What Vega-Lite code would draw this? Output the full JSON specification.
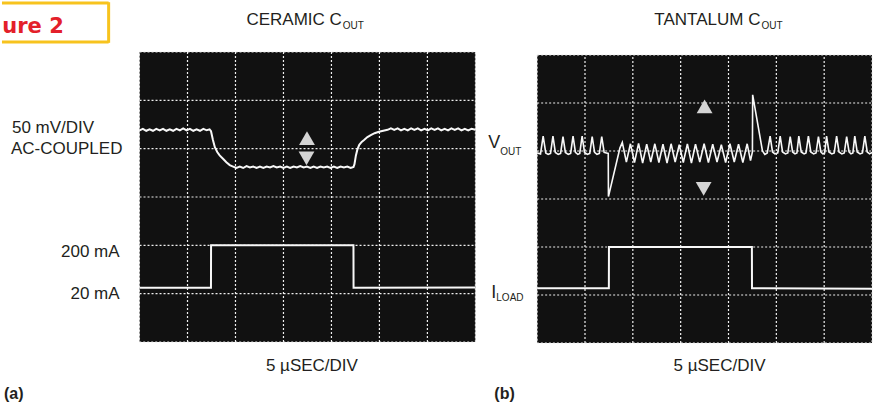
{
  "$schema": "https://vega.github.io/schema/vega-lite/v6.json",
  "width": 876,
  "height": 405,
  "autosize": {"type": "fit", "contains": "padding"},
  "padding": 0,
  "background": "white",
  "config": {"view": {"stroke": null}, "text": {"font": "Liberation Sans", "color": "#231f20"}},
  "datasets": {
    "frame": [{"x0": 0, "x1": 7, "y0": 0, "y1": 6}],
    "vgrid": [{"g": 1}, {"g": 2}, {"g": 3}, {"g": 4}, {"g": 5}, {"g": 6}],
    "hgrid": [{"g": 1}, {"g": 2}, {"g": 3}, {"g": 4}, {"g": 5}],
    "voutA": [
      {"t": 0.00, "v": 4.38}, {"t": 0.07, "v": 4.41}, {"t": 0.14, "v": 4.37}, {"t": 0.21, "v": 4.40}, {"t": 0.28, "v": 4.37},
      {"t": 0.35, "v": 4.41}, {"t": 0.42, "v": 4.38}, {"t": 0.49, "v": 4.41}, {"t": 0.56, "v": 4.37}, {"t": 0.63, "v": 4.40},
      {"t": 0.70, "v": 4.37}, {"t": 0.77, "v": 4.41}, {"t": 0.84, "v": 4.38}, {"t": 0.91, "v": 4.42}, {"t": 0.98, "v": 4.38},
      {"t": 1.05, "v": 4.41}, {"t": 1.12, "v": 4.37}, {"t": 1.19, "v": 4.40}, {"t": 1.26, "v": 4.37}, {"t": 1.33, "v": 4.41},
      {"t": 1.40, "v": 4.38}, {"t": 1.46, "v": 4.40},
      {"t": 1.49, "v": 4.36}, {"t": 1.53, "v": 4.18}, {"t": 1.57, "v": 4.03}, {"t": 1.62, "v": 3.93}, {"t": 1.67, "v": 3.86},
      {"t": 1.74, "v": 3.79}, {"t": 1.81, "v": 3.72}, {"t": 1.88, "v": 3.66},
      {"t": 1.95, "v": 3.63}, {"t": 2.02, "v": 3.60}, {"t": 2.09, "v": 3.63}, {"t": 2.16, "v": 3.60}, {"t": 2.23, "v": 3.64},
      {"t": 2.30, "v": 3.61}, {"t": 2.37, "v": 3.63}, {"t": 2.44, "v": 3.60}, {"t": 2.51, "v": 3.63}, {"t": 2.58, "v": 3.60},
      {"t": 2.65, "v": 3.63}, {"t": 2.72, "v": 3.61}, {"t": 2.79, "v": 3.64}, {"t": 2.86, "v": 3.61}, {"t": 2.93, "v": 3.63},
      {"t": 3.00, "v": 3.60}, {"t": 3.07, "v": 3.63}, {"t": 3.14, "v": 3.60}, {"t": 3.21, "v": 3.63}, {"t": 3.28, "v": 3.61},
      {"t": 3.35, "v": 3.64}, {"t": 3.42, "v": 3.61}, {"t": 3.49, "v": 3.63}, {"t": 3.56, "v": 3.60}, {"t": 3.63, "v": 3.63},
      {"t": 3.70, "v": 3.60}, {"t": 3.77, "v": 3.63}, {"t": 3.84, "v": 3.61}, {"t": 3.91, "v": 3.63}, {"t": 3.98, "v": 3.60},
      {"t": 4.05, "v": 3.63}, {"t": 4.12, "v": 3.60}, {"t": 4.19, "v": 3.63}, {"t": 4.26, "v": 3.61}, {"t": 4.33, "v": 3.63},
      {"t": 4.40, "v": 3.60}, {"t": 4.46, "v": 3.62},
      {"t": 4.48, "v": 3.68}, {"t": 4.51, "v": 3.86}, {"t": 4.54, "v": 3.98}, {"t": 4.58, "v": 4.08}, {"t": 4.63, "v": 4.14},
      {"t": 4.68, "v": 4.18}, {"t": 4.75, "v": 4.24}, {"t": 4.82, "v": 4.28}, {"t": 4.90, "v": 4.32}, {"t": 4.99, "v": 4.35},
      {"t": 5.08, "v": 4.37}, {"t": 5.17, "v": 4.39},
      {"t": 5.24, "v": 4.42}, {"t": 5.31, "v": 4.39}, {"t": 5.38, "v": 4.42}, {"t": 5.45, "v": 4.38}, {"t": 5.52, "v": 4.41},
      {"t": 5.59, "v": 4.38}, {"t": 5.66, "v": 4.42}, {"t": 5.73, "v": 4.39}, {"t": 5.80, "v": 4.42}, {"t": 5.87, "v": 4.38},
      {"t": 5.94, "v": 4.41}, {"t": 6.01, "v": 4.38}, {"t": 6.08, "v": 4.42}, {"t": 6.15, "v": 4.39}, {"t": 6.22, "v": 4.42},
      {"t": 6.29, "v": 4.38}, {"t": 6.36, "v": 4.41}, {"t": 6.43, "v": 4.38}, {"t": 6.50, "v": 4.42}, {"t": 6.57, "v": 4.39},
      {"t": 6.64, "v": 4.42}, {"t": 6.71, "v": 4.38}, {"t": 6.78, "v": 4.41}, {"t": 6.85, "v": 4.38}, {"t": 6.92, "v": 4.41},
      {"t": 7.00, "v": 4.39}
    ],
    "iloadA": [
      {"t": 0, "v": 1.12}, {"t": 1.489, "v": 1.12}, {"t": 1.491, "v": 2.0}, {"t": 4.459, "v": 2.0}, {"t": 4.461, "v": 1.12}, {"t": 7, "v": 1.13}
    ],
    "markA": [{"t": 3.49, "v": 4.22, "dir": "up"}, {"t": 3.48, "v": 3.80, "dir": "down"}],
    "voutB": [
      {"t": 0.00, "v": 3.96}, {"t": 0.07, "v": 3.94}, {"t": 0.125, "v": 4.31}, {"t": 0.18, "v": 3.96}, {"t": 0.23, "v": 3.93},
      {"t": 0.28, "v": 3.95}, {"t": 0.33, "v": 4.31}, {"t": 0.38, "v": 3.97}, {"t": 0.44, "v": 3.93}, {"t": 0.49, "v": 3.95},
      {"t": 0.54, "v": 4.30}, {"t": 0.59, "v": 3.97}, {"t": 0.65, "v": 3.93}, {"t": 0.70, "v": 3.95}, {"t": 0.75, "v": 4.31},
      {"t": 0.80, "v": 3.97}, {"t": 0.85, "v": 3.93}, {"t": 0.89, "v": 3.95}, {"t": 0.94, "v": 4.31}, {"t": 0.99, "v": 3.97},
      {"t": 1.05, "v": 3.93}, {"t": 1.10, "v": 3.95}, {"t": 1.15, "v": 4.30}, {"t": 1.20, "v": 3.97}, {"t": 1.25, "v": 3.93},
      {"t": 1.30, "v": 3.95}, {"t": 1.35, "v": 4.30}, {"t": 1.40, "v": 3.97}, {"t": 1.486, "v": 3.95},
      {"t": 1.49, "v": 3.05}, {"t": 1.73, "v": 4.06},
      {"t": 1.78, "v": 4.18}, {"t": 1.865, "v": 3.77}, {"t": 1.95, "v": 4.15}, {"t": 2.035, "v": 3.76}, {"t": 2.12, "v": 4.16},
      {"t": 2.205, "v": 3.75}, {"t": 2.29, "v": 4.14}, {"t": 2.375, "v": 3.77}, {"t": 2.46, "v": 4.15}, {"t": 2.545, "v": 3.76},
      {"t": 2.63, "v": 4.14}, {"t": 2.715, "v": 3.75}, {"t": 2.80, "v": 4.15}, {"t": 2.885, "v": 3.77}, {"t": 2.97, "v": 4.13},
      {"t": 3.055, "v": 3.76}, {"t": 3.14, "v": 4.15}, {"t": 3.225, "v": 3.75}, {"t": 3.31, "v": 4.14}, {"t": 3.40, "v": 3.77},
      {"t": 3.49, "v": 4.15}, {"t": 3.58, "v": 3.76}, {"t": 3.67, "v": 4.14}, {"t": 3.76, "v": 3.77}, {"t": 3.85, "v": 4.13},
      {"t": 3.94, "v": 3.76}, {"t": 4.03, "v": 4.15}, {"t": 4.12, "v": 3.77}, {"t": 4.21, "v": 4.14}, {"t": 4.30, "v": 3.76},
      {"t": 4.39, "v": 4.15}, {"t": 4.46, "v": 3.80}, {"t": 4.50, "v": 3.98},
      {"t": 4.505, "v": 5.17}, {"t": 4.71, "v": 4.00}, {"t": 4.76, "v": 3.93}, {"t": 4.81, "v": 3.96},
      {"t": 4.87, "v": 4.31}, {"t": 4.92, "v": 3.98}, {"t": 4.97, "v": 3.94}, {"t": 5.03, "v": 3.96}, {"t": 5.08, "v": 4.31},
      {"t": 5.13, "v": 3.98}, {"t": 5.19, "v": 3.94}, {"t": 5.24, "v": 3.96}, {"t": 5.29, "v": 4.30}, {"t": 5.34, "v": 3.98},
      {"t": 5.39, "v": 3.94}, {"t": 5.43, "v": 3.96}, {"t": 5.47, "v": 4.31}, {"t": 5.52, "v": 3.98}, {"t": 5.58, "v": 3.94},
      {"t": 5.62, "v": 3.96}, {"t": 5.67, "v": 4.31}, {"t": 5.72, "v": 3.98}, {"t": 5.78, "v": 3.94}, {"t": 5.83, "v": 3.96},
      {"t": 5.88, "v": 4.30}, {"t": 5.93, "v": 3.98}, {"t": 5.97, "v": 3.94}, {"t": 6.01, "v": 3.96}, {"t": 6.05, "v": 4.31},
      {"t": 6.10, "v": 3.98}, {"t": 6.16, "v": 3.94}, {"t": 6.21, "v": 3.96}, {"t": 6.26, "v": 4.31}, {"t": 6.31, "v": 3.98},
      {"t": 6.37, "v": 3.94}, {"t": 6.42, "v": 3.96}, {"t": 6.47, "v": 4.30}, {"t": 6.52, "v": 3.98}, {"t": 6.56, "v": 3.94},
      {"t": 6.60, "v": 3.96}, {"t": 6.64, "v": 4.31}, {"t": 6.69, "v": 3.98}, {"t": 6.75, "v": 3.94}, {"t": 6.80, "v": 3.96},
      {"t": 6.85, "v": 4.31}, {"t": 6.90, "v": 3.98}, {"t": 6.95, "v": 3.94}, {"t": 7.00, "v": 3.97}
    ],
    "iloadB": [
      {"t": 0, "v": 1.14}, {"t": 1.499, "v": 1.14}, {"t": 1.501, "v": 2.0}, {"t": 4.489, "v": 2.0}, {"t": 4.491, "v": 1.14}, {"t": 7, "v": 1.13}
    ],
    "markB": [{"t": 3.5, "v": 4.93, "dir": "up"}, {"t": 3.48, "v": 3.21, "dir": "down"}]
  },
  "resolve": {"scale": {"x": "independent", "y": "independent"}},
  "layer": [
    {
      "layer": [
        {
          "data": {"name": "frame"},
          "mark": {"type": "rect", "fill": "#111111", "stroke": "#e8e8e8", "strokeWidth": 1, "strokeDash": [2, 2]},
          "encoding": {
            "x": {"field": "x0", "type": "quantitative", "axis": null, "scale": {"domain": [-2.8665, 15.3294], "nice": false, "zero": false}},
            "x2": {"field": "x1"},
            "y": {"field": "y0", "type": "quantitative", "axis": null, "scale": {"domain": [-1.3034, 7.0759], "nice": false, "zero": false}},
            "y2": {"field": "y1"}
          }
        },
        {
          "data": {"name": "vgrid"},
          "mark": {"type": "rule", "color": "#f0f0f0", "strokeWidth": 1.2, "strokeDash": [2, 2]},
          "encoding": {
            "x": {"field": "g", "type": "quantitative", "axis": null, "scale": {"domain": [-2.8665, 15.3294], "nice": false, "zero": false}},
            "y": {"datum": 0, "type": "quantitative", "axis": null, "scale": {"domain": [-1.3034, 7.0759], "nice": false, "zero": false}},
            "y2": {"datum": 6}
          }
        },
        {
          "data": {"name": "hgrid"},
          "mark": {"type": "rule", "color": "#f0f0f0", "strokeWidth": 1.2, "strokeDash": [2, 2]},
          "encoding": {
            "y": {"field": "g", "type": "quantitative", "axis": null, "scale": {"domain": [-1.3034, 7.0759], "nice": false, "zero": false}},
            "x": {"datum": 0, "type": "quantitative", "axis": null, "scale": {"domain": [-2.8665, 15.3294], "nice": false, "zero": false}},
            "x2": {"datum": 7}
          }
        },
        {
          "data": {"name": "voutA"},
          "mark": {"type": "line", "color": "#f8f8f8", "strokeWidth": 2, "interpolate": "linear"},
          "encoding": {
            "x": {"field": "t", "type": "quantitative", "axis": null, "scale": {"domain": [-2.8665, 15.3294], "nice": false, "zero": false}},
            "y": {"field": "v", "type": "quantitative", "axis": null, "scale": {"domain": [-1.3034, 7.0759], "nice": false, "zero": false}}
          }
        },
        {
          "data": {"name": "iloadA"},
          "mark": {"type": "line", "color": "#f8f8f8", "strokeWidth": 2},
          "encoding": {
            "x": {"field": "t", "type": "quantitative", "axis": null, "scale": {"domain": [-2.8665, 15.3294], "nice": false, "zero": false}},
            "y": {"field": "v", "type": "quantitative", "axis": null, "scale": {"domain": [-1.3034, 7.0759], "nice": false, "zero": false}}
          }
        },
        {
          "data": {"name": "markA"},
          "mark": {"type": "point", "filled": true, "size": 250, "color": "#d4d4d4", "opacity": 1},
          "encoding": {
            "x": {"field": "t", "type": "quantitative", "axis": null, "scale": {"domain": [-2.8665, 15.3294], "nice": false, "zero": false}},
            "y": {"field": "v", "type": "quantitative", "axis": null, "scale": {"domain": [-1.3034, 7.0759], "nice": false, "zero": false}},
            "shape": {"field": "dir", "type": "nominal", "legend": null, "scale": {"domain": ["up", "down"], "range": ["triangle-up", "triangle-down"]}}
          }
        },
        {
          "data": {"values": [
            {"x": -2.867, "x2": -0.644, "y": 7.014, "y2": 7.014},
            {"x": -2.867, "x2": -0.644, "y": 6.207, "y2": 6.207},
            {"x": -0.644, "x2": -0.644, "y": 6.19, "y2": 7.03}
          ]},
          "mark": {"type": "rule", "color": "#f7c31e", "strokeWidth": 3},
          "encoding": {
            "x": {"field": "x", "type": "quantitative", "axis": null, "scale": {"domain": [-2.8665, 15.3294], "nice": false, "zero": false}},
            "x2": {"field": "x2"},
            "y": {"field": "y", "type": "quantitative", "axis": null, "scale": {"domain": [-1.3034, 7.0759], "nice": false, "zero": false}},
            "y2": {"field": "y2"}
          }
        },
        {
          "data": {"values": [{"x": -2.86, "y": 6.393, "label": "ure 2"}]},
          "mark": {"type": "text", "align": "left", "baseline": "alphabetic", "font": "DejaVu Sans", "fontWeight": "bold", "fontSize": 21, "color": "#e3202a"},
          "encoding": {
            "x": {"field": "x", "type": "quantitative", "axis": null, "scale": {"domain": [-2.8665, 15.3294], "nice": false, "zero": false}},
            "y": {"field": "y", "type": "quantitative", "axis": null, "scale": {"domain": [-1.3034, 7.0759], "nice": false, "zero": false}},
            "text": {"field": "label"}
          }
        },
        {
          "data": {"values": [
            {"x": -2.659, "y": 4.324, "label": "50 mV/DIV"},
            {"x": -2.68, "y": 3.89, "label": "AC-COUPLED"}
          ]},
          "mark": {"type": "text", "align": "left", "baseline": "alphabetic", "fontSize": 17},
          "encoding": {
            "x": {"field": "x", "type": "quantitative", "axis": null, "scale": {"domain": [-2.8665, 15.3294], "nice": false, "zero": false}},
            "y": {"field": "y", "type": "quantitative", "axis": null, "scale": {"domain": [-1.3034, 7.0759], "nice": false, "zero": false}},
            "text": {"field": "label"}
          }
        },
        {
          "data": {"values": [
            {"x": -0.415, "y": 1.759, "label": "200 mA"},
            {"x": -0.415, "y": 0.89, "label": "20 mA"},
            {"x": 4.217, "y": 6.559, "label": "CERAMIC C"}
          ]},
          "mark": {"type": "text", "align": "right", "baseline": "alphabetic", "fontSize": 17},
          "encoding": {
            "x": {"field": "x", "type": "quantitative", "axis": null, "scale": {"domain": [-2.8665, 15.3294], "nice": false, "zero": false}},
            "y": {"field": "y", "type": "quantitative", "axis": null, "scale": {"domain": [-1.3034, 7.0759], "nice": false, "zero": false}},
            "text": {"field": "label"}
          }
        },
        {
          "data": {"values": [{"x": 3.593, "y": -0.6, "label": "5 µSEC/DIV"}]},
          "mark": {"type": "text", "align": "center", "baseline": "alphabetic", "fontSize": 17},
          "encoding": {
            "x": {"field": "x", "type": "quantitative", "axis": null, "scale": {"domain": [-2.8665, 15.3294], "nice": false, "zero": false}},
            "y": {"field": "y", "type": "quantitative", "axis": null, "scale": {"domain": [-1.3034, 7.0759], "nice": false, "zero": false}},
            "text": {"field": "label"}
          }
        },
        {
          "data": {"values": [{"x": 4.237, "y": 6.476, "label": "OUT"}]},
          "mark": {"type": "text", "align": "left", "baseline": "alphabetic", "fontSize": 10},
          "encoding": {
            "x": {"field": "x", "type": "quantitative", "axis": null, "scale": {"domain": [-2.8665, 15.3294], "nice": false, "zero": false}},
            "y": {"field": "y", "type": "quantitative", "axis": null, "scale": {"domain": [-1.3034, 7.0759], "nice": false, "zero": false}},
            "text": {"field": "label"}
          }
        },
        {
          "data": {"values": [{"x": -2.825, "y": -1.179, "label": "(a)"}]},
          "mark": {"type": "text", "align": "left", "baseline": "alphabetic", "fontSize": 16, "fontWeight": "bold"},
          "encoding": {
            "x": {"field": "x", "type": "quantitative", "axis": null, "scale": {"domain": [-2.8665, 15.3294], "nice": false, "zero": false}},
            "y": {"field": "y", "type": "quantitative", "axis": null, "scale": {"domain": [-1.3034, 7.0759], "nice": false, "zero": false}},
            "text": {"field": "label"}
          }
        }
      ]
    },
    {
      "layer": [
        {
          "data": {"name": "frame"},
          "mark": {"type": "rect", "fill": "#111111", "stroke": "#e8e8e8", "strokeWidth": 1, "strokeDash": [2, 2]},
          "encoding": {
            "x": {"field": "x0", "type": "quantitative", "axis": null, "scale": {"domain": [-11.1875, 7.0625], "nice": false, "zero": false}},
            "x2": {"field": "x1"},
            "y": {"field": "y0", "type": "quantitative", "axis": null, "scale": {"domain": [-1.2917, 7.1458], "nice": false, "zero": false}},
            "y2": {"field": "y1"}
          }
        },
        {
          "data": {"name": "vgrid"},
          "mark": {"type": "rule", "color": "#f0f0f0", "strokeWidth": 1.2, "strokeDash": [2, 2]},
          "encoding": {
            "x": {"field": "g", "type": "quantitative", "axis": null, "scale": {"domain": [-11.1875, 7.0625], "nice": false, "zero": false}},
            "y": {"datum": 0, "type": "quantitative", "axis": null, "scale": {"domain": [-1.2917, 7.1458], "nice": false, "zero": false}},
            "y2": {"datum": 6}
          }
        },
        {
          "data": {"name": "hgrid"},
          "mark": {"type": "rule", "color": "#f0f0f0", "strokeWidth": 1.2, "strokeDash": [2, 2]},
          "encoding": {
            "y": {"field": "g", "type": "quantitative", "axis": null, "scale": {"domain": [-1.2917, 7.1458], "nice": false, "zero": false}},
            "x": {"datum": 0, "type": "quantitative", "axis": null, "scale": {"domain": [-11.1875, 7.0625], "nice": false, "zero": false}},
            "x2": {"datum": 7}
          }
        },
        {
          "data": {"name": "voutB"},
          "mark": {"type": "line", "color": "#f8f8f8", "strokeWidth": 1.6},
          "encoding": {
            "x": {"field": "t", "type": "quantitative", "axis": null, "scale": {"domain": [-11.1875, 7.0625], "nice": false, "zero": false}},
            "y": {"field": "v", "type": "quantitative", "axis": null, "scale": {"domain": [-1.2917, 7.1458], "nice": false, "zero": false}}
          }
        },
        {
          "data": {"name": "iloadB"},
          "mark": {"type": "line", "color": "#f8f8f8", "strokeWidth": 2},
          "encoding": {
            "x": {"field": "t", "type": "quantitative", "axis": null, "scale": {"domain": [-11.1875, 7.0625], "nice": false, "zero": false}},
            "y": {"field": "v", "type": "quantitative", "axis": null, "scale": {"domain": [-1.2917, 7.1458], "nice": false, "zero": false}}
          }
        },
        {
          "data": {"name": "markB"},
          "mark": {"type": "point", "filled": true, "size": 250, "color": "#d4d4d4", "opacity": 1},
          "encoding": {
            "x": {"field": "t", "type": "quantitative", "axis": null, "scale": {"domain": [-11.1875, 7.0625], "nice": false, "zero": false}},
            "y": {"field": "v", "type": "quantitative", "axis": null, "scale": {"domain": [-1.2917, 7.1458], "nice": false, "zero": false}},
            "shape": {"field": "dir", "type": "nominal", "legend": null, "scale": {"domain": ["up", "down"], "range": ["triangle-up", "triangle-down"]}}
          }
        },
        {
          "data": {"values": [{"x": 4.667, "y": 6.625, "label": "TANTALUM C"}]},
          "mark": {"type": "text", "align": "right", "baseline": "alphabetic", "fontSize": 17},
          "encoding": {
            "x": {"field": "x", "type": "quantitative", "axis": null, "scale": {"domain": [-11.1875, 7.0625], "nice": false, "zero": false}},
            "y": {"field": "y", "type": "quantitative", "axis": null, "scale": {"domain": [-1.2917, 7.1458], "nice": false, "zero": false}},
            "text": {"field": "label"}
          }
        },
        {
          "data": {"values": [
            {"x": 4.6875, "y": 6.542, "label": "OUT"},
            {"x": -0.771, "y": 3.917, "label": "OUT"},
            {"x": -0.854, "y": 0.875, "label": "LOAD"}
          ]},
          "mark": {"type": "text", "align": "left", "baseline": "alphabetic", "fontSize": 10},
          "encoding": {
            "x": {"field": "x", "type": "quantitative", "axis": null, "scale": {"domain": [-11.1875, 7.0625], "nice": false, "zero": false}},
            "y": {"field": "y", "type": "quantitative", "axis": null, "scale": {"domain": [-1.2917, 7.1458], "nice": false, "zero": false}},
            "text": {"field": "label"}
          }
        },
        {
          "data": {"values": [
            {"x": -1.021, "y": 4.0625, "label": "V"},
            {"x": -0.958, "y": 0.9375, "label": "I"}
          ]},
          "mark": {"type": "text", "align": "left", "baseline": "alphabetic", "fontSize": 18},
          "encoding": {
            "x": {"field": "x", "type": "quantitative", "axis": null, "scale": {"domain": [-11.1875, 7.0625], "nice": false, "zero": false}},
            "y": {"field": "y", "type": "quantitative", "axis": null, "scale": {"domain": [-1.2917, 7.1458], "nice": false, "zero": false}},
            "text": {"field": "label"}
          }
        },
        {
          "data": {"values": [{"x": 3.8125, "y": -0.583, "label": "5 µSEC/DIV"}]},
          "mark": {"type": "text", "align": "center", "baseline": "alphabetic", "fontSize": 17},
          "encoding": {
            "x": {"field": "x", "type": "quantitative", "axis": null, "scale": {"domain": [-11.1875, 7.0625], "nice": false, "zero": false}},
            "y": {"field": "y", "type": "quantitative", "axis": null, "scale": {"domain": [-1.2917, 7.1458], "nice": false, "zero": false}},
            "text": {"field": "label"}
          }
        },
        {
          "data": {"values": [{"x": -0.896, "y": -1.167, "label": "(b)"}]},
          "mark": {"type": "text", "align": "left", "baseline": "alphabetic", "fontSize": 16, "fontWeight": "bold"},
          "encoding": {
            "x": {"field": "x", "type": "quantitative", "axis": null, "scale": {"domain": [-11.1875, 7.0625], "nice": false, "zero": false}},
            "y": {"field": "y", "type": "quantitative", "axis": null, "scale": {"domain": [-1.2917, 7.1458], "nice": false, "zero": false}},
            "text": {"field": "label"}
          }
        }
      ]
    }
  ]
}
